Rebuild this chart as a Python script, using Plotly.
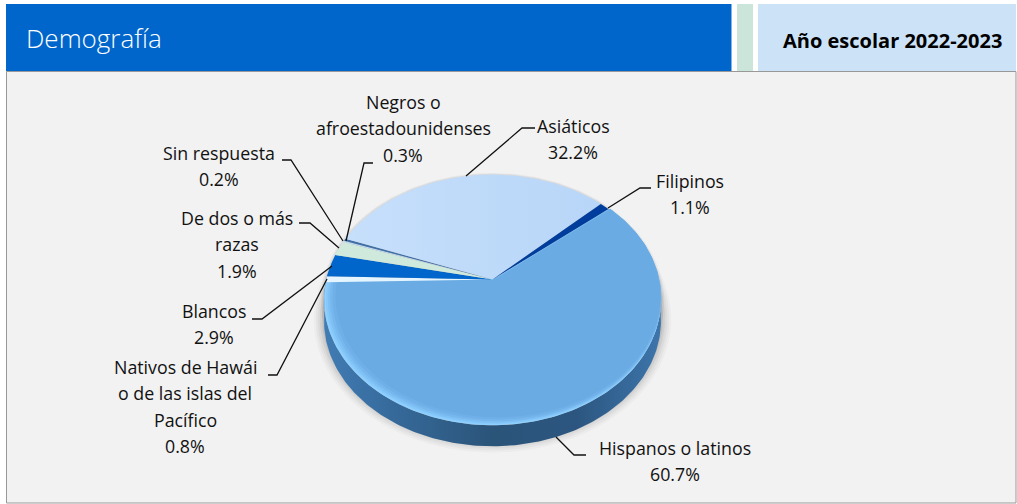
import math
import plotly.graph_objects as go

# ---- data ----
categories = ["Hispanos o latinos", "Nativos de Hawái o de las islas del Pacífico", "Blancos",
              "De dos o más razas", "Sin respuesta", "Negros o afroestadounidenses",
              "Asiáticos", "Filipinos"]
values = [60.7, 0.8, 2.9, 1.9, 0.2, 0.3, 32.2, 1.1]
colors = ["#6BABE3", "#E4F5FF", "#0066CC", "#CFE9DD", "#BFD8F0", "#3F6FA8", "#BDD9F9", "#003D9C"]
label_lines = [["Hispanos o latinos"], ["Nativos de Hawái", "o de las islas del", "Pacífico"], ["Blancos"],
               ["De dos o más", "razas"], ["Sin respuesta"], ["Negros o", "afroestadounidenses"],
               ["Asiáticos"], ["Filipinos"]]
title_text = "Demografía"
year_text = "Año escolar 2022-2023"

# ---- layout (pixels of the 1017x504 page) ----
W, H = 1017, 504
FONT = "Open Sans"
APEX = (492.5, 279.5)
A, B_, K = 122.0, 166.2, 0.163
DEPTH = 21
START_DEG = 50.4
label_pos = [(674.5, 448), (185, 367), (214, 311), (237, 218), (219, 153), (403, 102), (573, 126), (690, 181)]
LINE_STEP = 26.3
leaders = [
    [(586, 455), (574, 455), (556, 437)],
    [(268, 375), (277, 375), (327, 279)],
    [(252, 319), (262, 319), (332, 266)],
    [(299, 223), (310, 223), (339, 248)],
    [(282, 160), (291, 160), (343, 241)],
    [(373, 163), (364, 163), (346, 241)],
    [(535, 128), (522, 128), (466, 176)],
    [(651, 188), (640, 188), (608, 208)],
]


def proj(theta, r=1.0, dx=0.0, dy=0.0):
    """Perspective map: theta clockwise from the far point of the disc."""
    u, v = r * math.sin(theta), r * math.cos(theta)
    d = 1 + K * v
    return APEX[0] + B_ * u / d + dx, APEX[1] - A * v / d + dy


def arc(a0, a1, r=1.0, dx=0.0, dy=0.0, n=None):
    n = n or max(2, int(abs(a1 - a0) / math.radians(1)))
    return [proj(a0 + (a1 - a0) * i / n, r, dx, dy) for i in range(n + 1)]


def poly(pts, color, name, **kw):
    xs = [p[0] for p in pts]
    ys = [p[1] for p in pts]
    return go.Scatter(x=xs, y=ys, mode="lines", fill="toself", fillcolor=color,
                      line=dict(width=0), name=name, hoverinfo="skip", showlegend=False, **kw)


fig = go.Figure()

# soft shadow beneath the disc
for grow, alpha in [(10, .03), (8, .04), (6, .05), (4, .07), (2, .10)]:
    pts = arc(0, 2 * math.pi, 1 + grow / 168, dy=DEPTH * .8, n=240)
    fig.add_trace(poly(pts, f"rgba(50,50,50,{alpha})", "sombra"))
for grow, alpha in [(3, .05), (1.5, .08)]:
    pts = arc(0, 2 * math.pi, 1 + grow / 168, n=240)
    fig.add_trace(poly(pts, f"rgba(60,60,60,{alpha})", "sombra"))

# side wall
lo, hi = math.radians(84), math.radians(276)
wall = arc(lo, hi) + arc(hi, lo, dy=DEPTH)
fig.add_trace(go.Scatter(x=[p[0] for p in wall], y=[p[1] for p in wall], mode="lines", fill="toself",
                         line=dict(width=0), hoverinfo="skip", showlegend=False, name="pared",
                         fillgradient=dict(type="horizontal",
                                           colorscale=[[0, "#417CB4"], [.2, "#366A9B"], [.5, "#2B5479"],
                                                       [.75, "#2C5680"], [1, "#3D75AB"]])))

# slices, computed from the values
total = sum(values)
a = math.radians(START_DEG)
spans = []
for v in values:
    s = 2 * math.pi * v / total
    spans.append((a, a + s))
    a += s

apex = [APEX]
h0, h1 = spans[0]
# bevel on the main slice: light rim on the lower left
for r, dx, dy, col in [(1.0, 0, 0, "#8ED0FF"), (.995, 1.0, -.4, "#86C8FA"), (.99, 2.0, -.8, "#7FC0F4"),
                       (.984, 3.1, -1.2, "#77B7EE"), (.976, 4.2, -1.6, "#70B0E8"), (.965, 5.5, -2, colors[0])]:
    pts = [(APEX[0] + dx, APEX[1] + dy)] + arc(h0, h1, r, dx, dy)
    fig.add_trace(poly(pts, col, categories[0]))
for i in range(1, len(values)):
    pts = apex + arc(*spans[i], n=max(4, int((spans[i][1] - spans[i][0]) / math.radians(1))))
    if categories[i] == "Asiáticos":
        fig.add_trace(go.Scatter(x=[p[0] for p in pts], y=[p[1] for p in pts], mode="lines", fill="toself",
                                 line=dict(width=0), hoverinfo="skip", showlegend=False, name=categories[i],
                                 fillgradient=dict(type="horizontal",
                                                   colorscale=[[0, "#C6DFFB"], [1, "#B8D6F8"]])))
    else:
        fig.add_trace(poly(pts, colors[i], categories[i]))

# leaders
for path in leaders:
    fig.add_trace(go.Scatter(x=[p[0] for p in path], y=[p[1] for p in path], mode="lines",
                             line=dict(color="#111111", width=1.3), hoverinfo="skip", showlegend=False))

shapes = [
    dict(type="rect", x0=6, x1=731.5, y0=4, y1=71, fillcolor="#0066CC", line_width=0, layer="below"),
    dict(type="rect", x0=737, x1=753, y0=4, y1=71, fillcolor="#CCE5DA", line_width=0, layer="below"),
    dict(type="rect", x0=758, x1=1016, y0=4, y1=71, fillcolor="#CCE2F7", line_width=0, layer="below"),
    dict(type="rect", x0=6.5, x1=1016, y0=71.5, y1=503, fillcolor="#F2F2F2",
         line=dict(color="#999999", width=1), layer="below"),
]

ann = []
for lines, (x, y), v in zip(label_lines, label_pos, values):
    for j, t in enumerate(lines + [f"{v}%"]):
        ann.append(dict(x=x, y=y + j * LINE_STEP, text=t, showarrow=False, xanchor="center", yanchor="middle",
                        font=dict(family=FONT, size=17.8, color="#111111")))
ann.append(dict(x=24, y=38, text=title_text, showarrow=False, xanchor="left", yanchor="middle",
                font=dict(family=FONT, size=26, weight=300, color="#FFFFFF")))
ann.append(dict(x=781, y=40, text=year_text, showarrow=False, xanchor="left", yanchor="middle",
                font=dict(family=FONT, size=20, weight=700, color="#000000")))

fig.update_layout(
    width=W, height=H, autosize=False, margin=dict(l=0, r=0, t=0, b=0),
    paper_bgcolor="#FFFFFF", plot_bgcolor="rgba(0,0,0,0)", showlegend=False,
    xaxis=dict(range=[0, W], visible=False, fixedrange=True),
    yaxis=dict(range=[H, 0], visible=False, fixedrange=True),
    shapes=shapes, annotations=ann,
)
fig.write_html("out.html", config=dict(displayModeBar=False),
               post_script="document.body.style.margin='0';document.body.style.overflow='hidden';")
